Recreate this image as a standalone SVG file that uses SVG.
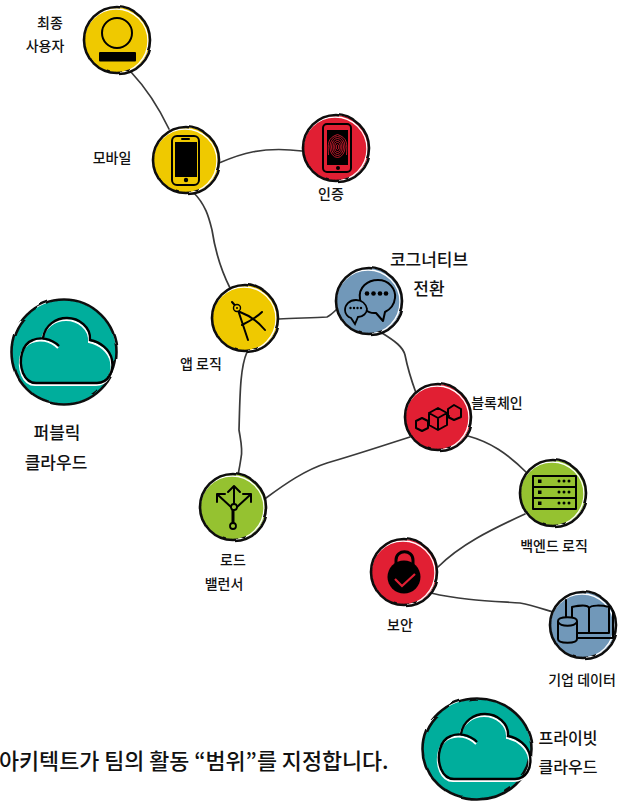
<svg xmlns="http://www.w3.org/2000/svg" xmlns:xlink="http://www.w3.org/1999/xlink" width="621" height="802" viewBox="0 0 621 802">
<style>
text{font-family:"Noto Sans CJK KR","Noto Sans",sans-serif;fill:#111;text-anchor:middle}
.lb{font-size:14px;font-weight:500}
.lg{font-size:17px;font-weight:500}
.cap{font-size:21.800px;font-weight:500;text-anchor:start}
.wire path{fill:none;stroke:#3a3a3a;stroke-width:1.7;stroke-linecap:round}
.ring{fill:none;stroke:#111;stroke-width:2.6}
.hi{fill:none;stroke:#fff;stroke-width:1.4}
.y{fill:#efc900}.r{fill:#e11f33}.b{fill:#7198b9}.g{fill:#95c230}.t{fill:#00ae9c}
.k{fill:none;stroke:#000;stroke-width:2;stroke-linecap:round;stroke-linejoin:round}
.f{fill:#000}
</style>
<defs>
<filter id="w" x="-10%" y="-10%" width="120%" height="120%"><feTurbulence type="fractalNoise" baseFrequency="0.035" numOctaves="2" seed="4"/><feDisplacementMap in="SourceGraphic" scale="3.5"/></filter>
<path id="cl" d="M-5,-6C-13,-14-24,-15-31,-12C-42,-8-46,8-41,21C-38,28-34,31-28,31L33,31C44,31 50,20 48,8C46,-3 36,-10 26,-12C27,-25 15,-34 3,-34C-8,-34-19,-27-21,-14"/>
<g id="disc"><circle class="hi" r="32" cx="-1" cy="1"/><circle class="ring" r="33" filter="url(#w)"/></g>
</defs>
<g id="connectors" class="wire">
<path d="M131,72C146,88 158,106 169,129"/>
<path d="M219,163C240,154 262,146 302,151"/>
<path d="M193,192C206,205 209,218 212,230C215,250 222,272 230,288"/>
<path d="M279,319C295,318 312,318 327,317C331,315 334,312 337,309"/>
<path d="M382,333C395,341 403,347 405,355C408,370 412,382 416,393"/>
<path d="M247,352C240,368 240,395 239,430C241,442 243,450 241,458C240,465 239,470 238,475"/>
<path d="M266,498C285,484 305,470 327,463C355,455 385,445 410,437"/>
<path d="M468,436C490,442 507,453 527,473"/>
<path d="M525,514C490,530 460,545 438,567"/>
<path d="M431,593C460,600 490,601 520,603C532,605 543,609 553,612"/>
</g>
<g id="user" transform="translate(117,40)"><circle class="y" r="33"/><use href="#disc"/><circle class="k" cy="-7" r="15" stroke-width="2.5"/><rect class="f" x="-18" y="12" width="37" height="9.500" rx="1"/></g>
<g id="mobile" transform="translate(186,160)"><circle class="y" r="33"/><use href="#disc"/><rect class="k" x="-14" y="-24" width="27" height="49" rx="5"/><rect class="f" x="-11" y="-18" width="22" height="35"/><circle class="f" cy="20" r="2.200"/><path class="k" d="M-4,-21H3" stroke-width="1"/></g>
<g id="auth" transform="translate(336,148)"><circle class="r" r="33"/><use href="#disc"/><rect class="k" x="-13" y="-24" width="28" height="48" rx="4"/><rect class="f" x="-9" y="-18" width="21" height="35"/><circle class="f" cx="2" cy="20" r="2"/><g fill="none" stroke="#e11f33" stroke-width=".8"><ellipse cx="1.500" cy="-1" rx="1.200" ry="2.500"/><ellipse cx="1.500" cy="-1" rx="2.800" ry="4.500"/><ellipse cx="1.500" cy="-1" rx="4.400" ry="6.500"/><ellipse cx="1.500" cy="-1" rx="6" ry="8.500"/><ellipse cx="1.500" cy="-1" rx="7.600" ry="10.500"/><path d="M-7.500,7C-8,-4-9,-10 1.500,-13.500C12,-10 11,-4 10.500,7"/></g></g>
<g id="app" transform="translate(245,318)"><circle class="y" r="33"/><use href="#disc"/><path class="k" stroke-width="2.400" d="M-13,-16L-6,-8M-7,-8L3,22M-5,-6C3,-3 12,2 20,12M-3,7C5,3 12,-1 17,-6"/><circle cx="-8" cy="-10" r="3.500" fill="#efc900" stroke="#000" stroke-width="1.400"/><circle cx="-8" cy="-10" r="1" class="f"/></g>
<g id="cognitive" transform="translate(369,301)"><circle class="b" r="33"/><use href="#disc"/><path d="M-9,-2C-11,-14-1,-21 9,-21C20,-21 27,-12 26,-3C25,6 18,10 16,11L14,20L7,12C-2,13-8,6-9,-2Z" class="k"/><path d="M-13,-1C-20,-1-24,4-24,9C-24,13-21,16-18,17L-14,23L-11,16C-6,16-2,12-2,8C-3,3-7,-1-13,-1Z" fill="#7198b9" stroke="#000" stroke-width="1.800"/><g class="f"><circle cx="-2" cy="-7.500" r="2.300"/><circle cx="4.500" cy="-7.500" r="2.300"/><circle cx="11" cy="-7.500" r="2.300"/><circle cx="17" cy="-7.500" r="2.300"/><circle cx="-18.500" cy="7" r="1.200"/><circle cx="-15" cy="7" r="1.200"/><circle cx="-11.500" cy="7" r="1.200"/><circle cx="-8" cy="7" r="1.200"/></g></g>
<g id="blockchain" transform="translate(438,417)"><circle class="r" r="33"/><use href="#disc"/><g class="k"><path d="M-22,4L-16,1L-10,4V11L-16,14L-22,11Z"/><path d="M10,-8L16,-12L23,-8V0L16,3L10,0Z"/><path d="M-9,-4L0,-9L9,-4V8L0,13L-9,8ZM-9,-4L0,1L9,-4M0,1V13"/><path d="M-10,7L-9,6M9,1L11,-1"/></g></g>
<g id="loadbalancer" transform="translate(233,507)"><circle class="g" r="33"/><use href="#disc"/><g class="k"><path d="M1,-20V-3M-5,-15L1,-21L7,-15"/><path d="M-2,0L-15,-12M-16,-5V-13H-8"/><path d="M4,0L17,-12M10,-13H18V-5"/><path d="M0,3V16" stroke-width="3"/></g><circle cx="1" cy="0" r="3" fill="#95c230" stroke="#000" stroke-width="1.800"/><circle cx="0" cy="19" r="3" fill="#95c230" stroke="#000" stroke-width="1.800"/></g>
<g id="backend" transform="translate(553,493)"><circle class="g" r="33"/><use href="#disc"/><g class="k"><path d="M-20,-17H23V16H-20Z"/><path d="M-20,-6H23M-20,5H23"/></g><g class="f"><rect x="-15" y="-13.500" width="3.500" height="3.500"/><rect x="-15" y="-2.500" width="3.500" height="3.500"/><rect x="-15" y="8.500" width="3.500" height="3.500"/><circle cx="6" cy="-12" r="1.500"/><circle cx="11" cy="-12" r="1.500"/><circle cx="16" cy="-12" r="1.500"/><circle cx="6" cy="-1" r="1.500"/><circle cx="11" cy="-1" r="1.500"/><circle cx="16" cy="-1" r="1.500"/><circle cx="6" cy="10" r="1.500"/><circle cx="11" cy="10" r="1.500"/><circle cx="16" cy="10" r="1.500"/></g></g>
<g id="security" transform="translate(404,572)"><circle class="r" r="33"/><use href="#disc"/><circle class="f" cy="5" r="16.500"/><path d="M-8,-7V-12C-8,-23 9,-23 9,-12V-7" fill="none" stroke="#000" stroke-width="3"/><path d="M-9,7L-2,14L11,2" fill="none" stroke="#e11f33" stroke-width="2.200"/></g>
<g id="enterprisedata" transform="translate(583,625)"><circle class="b" r="33"/><use href="#disc"/><g class="k"><path d="M-11,-18C-2,-20 5,-20 6,-17C8,-20 18,-20 26,-18V8H-11Z"/><path d="M6,-17V7"/><path d="M30,-14V13H-6"/></g><path d="M-25,-4C-25,-9-6,-9-6,-4V14C-6,19-25,19-25,14Z" fill="#7198b9" stroke="#000" stroke-width="2"/><path class="k" d="M-25,-3C-22,2-9,2-6,-3M-17,-8V-25"/></g>
<g id="publiccloud" transform="translate(64,352)"><circle class="t" r="52"/><circle class="ring" r="52.500" stroke-width="3" filter="url(#w)"/><use href="#cl" fill="none" stroke="#fff" stroke-width="2" transform="translate(-1,2)"/><use href="#cl" fill="none" stroke="#000" stroke-width="2.400"/></g>
<g id="privatecloud" transform="translate(477,749)"><ellipse class="t" rx="54" ry="50"/><ellipse class="ring" rx="54.500" ry="50.500" stroke-width="3" filter="url(#w)"/><g transform="translate(5,-1)"><use href="#cl" fill="none" stroke="#fff" stroke-width="2" transform="translate(-1,2)"/><use href="#cl" fill="none" stroke="#000" stroke-width="2.400"/></g></g>
<g id="labels">
<text class="lb" x="50" y="28">최종</text><text class="lb" x="45" y="51">사용자</text>
<text class="lb" x="112" y="163">모바일</text>
<text class="lb" x="331" y="199">인증</text>
<text class="lg" x="429" y="266">코그너티브</text><text class="lg" x="429" y="295">전환</text>
<text class="lb" x="201" y="369">앱 로직</text>
<text class="lb" x="497" y="408">블록체인</text>
<text class="lb" x="233" y="565">로드</text><text class="lb" x="224" y="589">밸런서</text>
<text class="lb" x="554" y="551">백엔드 로직</text>
<text class="lb" x="400" y="630">보안</text>
<text class="lb" x="582" y="685">기업 데이터</text>
<text class="lg" x="57" y="439">퍼블릭</text><text class="lg" x="56" y="469">클라우드</text>
<text class="lb" x="568" y="744" style="font-size:16px">프라이빗</text><text class="lb" x="568" y="773" style="font-size:16px">클라우드</text>
<text class="cap" x="-1" y="769">아키텍트가 팀의 활동 “범위”를 지정합니다.</text>
</g>
</svg>
